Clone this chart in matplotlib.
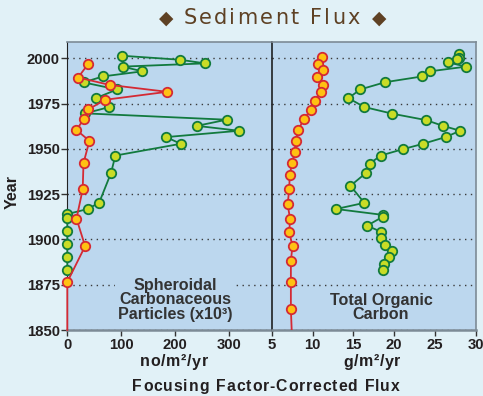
import matplotlib
matplotlib.use("Agg")
import matplotlib.pyplot as plt

# ---------------- data ----------------
scp_a_year = [2001.4, 1999.2, 1997.2, 1995.4, 1992.8, 1990.0, 1986.7, 1982.8, 1978.0, 1973.1,
              1969.6, 1966.1, 1962.7, 1960.0, 1956.5, 1952.8, 1946.3, 1936.7, 1920.3, 1916.8,
              1914.0, 1912.0, 1904.4, 1897.4, 1890.3, 1883.3]
scp_a_val = [102, 209, 255, 102.5, 139, 66, 30, 92, 53, 78,
             33, 295, 240, 318, 183, 210, 89, 81, 59, 38,
             0, 0, 0, 0, 0, 0]

scp_b_year = [1996.8, 1989.4, 1985.3, 1981.5, 1977.1, 1971.8, 1966.3, 1960.4, 1954.4, 1942.2,
              1927.6, 1911.5, 1896.3, 1876.5, 1850.0]
scp_b_val = [38.5, 20, 78.5, 185, 70, 39, 30, 17, 41, 30,
             28.5, 17, 33, 0, 0]

toc_a_year = [2002.2, 2000.3, 1999.6, 1997.8, 1995.4, 1992.8, 1990.0, 1986.8, 1982.8, 1978.0,
              1973.1, 1969.4, 1965.9, 1962.7, 1960.0, 1956.5, 1952.8, 1949.8, 1946.3, 1941.8,
              1936.7, 1929.6, 1920.2, 1916.8, 1913.5, 1912.5, 1907.6, 1904.1, 1900.6, 1897.1,
              1893.6, 1890.1, 1886.7, 1883.2]
toc_a_val = [28.0, 27.9, 27.7, 26.6, 28.8, 24.4, 23.45, 18.9, 15.85, 14.4,
             16.35, 19.8, 23.9, 26.0, 28.1, 26.3, 23.55, 21.05, 18.35, 17.0,
             16.55, 14.65, 16.35, 12.9, 18.7, 18.6, 16.7, 18.45, 18.35, 18.9,
             19.8, 19.4, 18.75, 18.7]

toc_b_year = [2000.6, 1996.7, 1993.3, 1989.6, 1985.5, 1981.5, 1976.7, 1971.7, 1966.3, 1960.2,
              1954.4, 1948.3, 1942.4, 1935.3, 1927.6, 1919.4, 1911.4, 1903.9, 1896.4, 1888.3,
              1876.7, 1861.5, 1850.0]
toc_b_val = [11.13, 10.7, 11.25, 10.6, 11.3, 11.05, 10.35, 9.85, 8.9, 8.25,
             7.95, 7.85, 7.5, 7.2, 7.15, 6.95, 7.25, 7.15, 7.55, 7.35,
             7.35, 7.35, 7.45]

year_ticks = [1850, 1875, 1900, 1925, 1950, 1975, 2000]
scp_ticks = [0, 100, 200, 300]
toc_ticks = [5, 10, 15, 20, 25, 30]

# ---------------- style ----------------
FIG_BG = "#e1f1f7"
AX_BG = "#bcd7ee"
G_FACE, G_EDGE = "#c9dc26", "#127a3e"
R_FACE, R_EDGE = "#ffc112", "#d42a34"
TXT = "#231f20"
BROWN = "#5e4124"

plt.rcParams["font.family"] = ["Liberation Sans", "DejaVu Sans"]

W, H = 483, 396
fig = plt.figure(figsize=(W / 100, H / 100), dpi=100, facecolor=FIG_BG)
renderer = fig.canvas.get_renderer()


def fx(px):
    return px / W


def fy(py):
    return 1 - py / H


def tracked(text, cx, cy, track, **kw):
    """Draw text centred at pixel (cx, cy) with extra letter spacing (px)."""
    widths = []
    objs = []
    for ch in text:
        t = fig.text(0, 0, ch, ha="left", va="center", **kw)
        if ch == " ":
            t.set_text("n")
            w = t.get_window_extent(renderer).width * 0.55
            t.set_text("")
        else:
            w = t.get_window_extent(renderer).width
        widths.append(w)
        objs.append(t)
    total = sum(widths) + track * (len(text) - 1)
    x = cx - total / 2
    for t, w in zip(objs, widths):
        t.set_position((fx(x), fy(cy)))
        x += w + track


x0, xm, x1 = 67.3, 271.7, 475.7
ytop, ybot = 42, 330
axL = fig.add_axes([fx(x0), fy(ybot), fx(xm - x0), (ybot - ytop) / H])
axR = fig.add_axes([fx(xm), fy(ybot), fx(x1 - xm), (ybot - ytop) / H], sharey=axL)

for ax in (axL, axR):
    ax.set_facecolor(AX_BG)
    ax.set_ylim(1850, 2009)
    ax.set_yticks(year_ticks)
    ax.grid(axis="y", linestyle=(0, (1, 3.2)), color="#3a3a3a", linewidth=1.0)
    ax.set_axisbelow(True)
    ax.tick_params(axis="both", direction="out", length=4, width=1, color="#333333",
                   labelsize=10.7, labelcolor=TXT, pad=1.5)
    for s in ("top", "right", "bottom"):
        ax.spines[s].set_color("#7d8b96")
    ax.spines["bottom"].set_linewidth(1.8)
    ax.spines["top"].set_linewidth(1.2)
    ax.spines["right"].set_linewidth(1.2)

axL.spines["left"].set_color("#222222")
axL.spines["right"].set_visible(False)
axR.spines["left"].set_color("#111111")
axR.spines["left"].set_linewidth(1.1)
axR.tick_params(axis="y", left=False, labelleft=False)

mk = dict(marker="o", markersize=6.8, markeredgewidth=1.3, linewidth=1.3)

axL.set_xlim(0, 378.5)
axL.set_xticks(scp_ticks)
axL.plot(scp_a_val, scp_a_year, color=G_EDGE, markerfacecolor=G_FACE,
         markeredgecolor=G_EDGE, zorder=3, clip_on=False, **mk)
axL.plot(scp_b_val, scp_b_year, color=R_EDGE, markerfacecolor=R_FACE,
         markeredgecolor=R_EDGE, zorder=4, clip_on=False,
         markevery=list(range(len(scp_b_val) - 1)), **mk)

axR.set_xlim(5, 30)
axR.set_xticks(toc_ticks)
axR.plot(toc_a_val, toc_a_year, color=G_EDGE, markerfacecolor=G_FACE,
         markeredgecolor=G_EDGE, zorder=3, **mk)
axR.plot(toc_b_val, toc_b_year, color=R_EDGE, markerfacecolor=R_FACE,
         markeredgecolor=R_EDGE, zorder=4,
         markevery=list(range(len(toc_b_val) - 1)), **mk)

for lbl in axL.get_xticklabels() + axL.get_yticklabels() + axR.get_xticklabels():
    lbl.set_fontweight("bold")

# panel labels
fig.text(fx(175), fy(300), "Spheroidal\nCarbonaceous\nParticles (x10\u00b3)",
         ha="center", va="center", fontsize=11.6, fontweight="bold", color="#333333",
         linespacing=0.92,
         bbox=dict(boxstyle="square,pad=0.15", facecolor=AX_BG, edgecolor="none"),
         zorder=10)
fig.text(fx(381), fy(307.5), "Total Organic\nCarbon", ha="center", va="center",
         fontsize=11.6, fontweight="bold", color="#333333", linespacing=0.92, zorder=10)

# axis labels
fig.text(fx(12), fy(192), "Year", rotation=90, ha="center", va="center",
         fontsize=11.5, fontweight="bold", color=TXT)
tracked("no/m\u00b2/yr", 174, 362, 0.6, fontsize=11.5, fontweight="bold", color=TXT)
tracked("g/m\u00b2/yr", 372, 362, 0.6, fontsize=11.5, fontweight="bold", color=TXT)
tracked("Focusing Factor-Corrected Flux", 266, 386.5, 0.9,
        fontsize=11.3, fontweight="bold", color=TXT)

# title
tracked("Sediment Flux", 271.5, 18.5, 2.2, fontsize=15, color=BROWN,
        family=["DejaVu Sans"])
fig.text(fx(166.5), fy(18.5), "\u25c6", ha="center", va="center", fontsize=13.5,
         color=BROWN, family=["DejaVu Sans"])
fig.text(fx(379), fy(18.5), "\u25c6", ha="center", va="center", fontsize=13.5,
         color=BROWN, family=["DejaVu Sans"])

fig.savefig("out.png", dpi=100, facecolor=FIG_BG)
